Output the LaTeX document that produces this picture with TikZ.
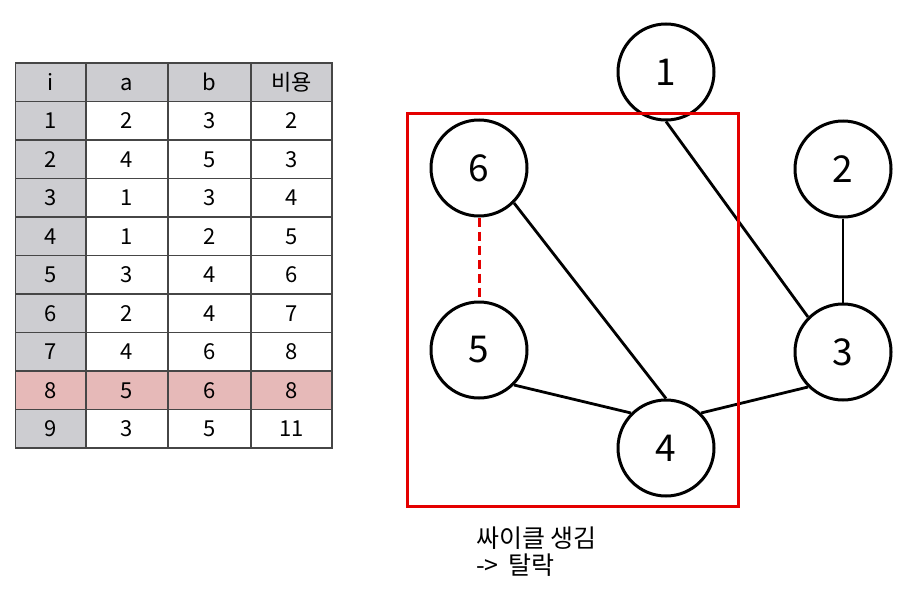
\documentclass[tikz,border=0pt]{standalone}
\usepackage{fontspec}
\setmainfont{Noto Sans CJK KR}
\definecolor{tgray}{RGB}{205,205,209}
\definecolor{tpink}{RGB}{230,185,184}
\definecolor{tline}{RGB}{70,70,70}
\definecolor{rred}{RGB}{228,0,0}
\begin{document}
\begin{tikzpicture}[x=1pt,y=-1pt,
  cell/.style={draw=tline,line width=1.3pt,minimum height=38.5pt,inner sep=0pt,text height=16pt,text depth=0pt,font=\fontsize{22}{26}\selectfont},
  c0/.style={cell,minimum width=70.3pt},
  c1/.style={cell,minimum width=82pt},
  c2/.style={cell,minimum width=83pt},
  c3/.style={cell,minimum width=81pt},
  vtx/.style={circle,draw,line width=3pt,fill=white,minimum size=96pt,inner sep=0pt,font=\fontsize{37}{40}\selectfont},
  edge/.style={line width=2.8pt}]
\useasboundingbox (0,0) rectangle (907,589);
% table header
\node[c0,fill=tgray] (h0) at (50.85,82.25) {i};
\node[c1,fill=tgray] (h1) at (127,82.25) {a};
\node[c2,fill=tgray] (h2) at (209.5,82.25) {b};
\node[c3,fill=tgray] (h3) at (291.5,82.25) {비용};
\foreach \r/\a/\b/\w in {1/2/3/2,2/4/5/3,3/1/3/4,4/1/2/5,5/3/4/6,6/2/4/7,7/4/6/8,9/3/5/11}{
  \pgfmathsetmacro{\yc}{82.25+38.5*\r}
  \node[c0,fill=tgray] (r\r c0) at (50.85,\yc) {\r};
  \node[c1,fill=white] (r\r c1) at (127,\yc) {\a};
  \node[c2,fill=white] (r\r c2) at (209.5,\yc) {\b};
  \node[c3,fill=white] (r\r c3) at (291.5,\yc) {\w};
}
\node[c0,fill=tpink] (r8c0) at (50.85,390.25) {8};
\node[c1,fill=tpink] (r8c1) at (127,390.25) {5};
\node[c2,fill=tpink] (r8c2) at (209.5,390.25) {6};
\node[c3,fill=tpink] (r8c3) at (291.5,390.25) {8};
% graph
\node[vtx] (n1) at (666,72) {1};
\node[vtx] (n2) at (843,169) {2};
\node[vtx] (n3) at (843,352) {3};
\node[vtx] (n4) at (666,448) {4};
\node[vtx] (n5) at (479,350) {5};
\node[vtx] (n6) at (479,168) {6};
\draw[edge] (n1.south) -- (n3.north west);
\draw[edge] (n2.south) -- (n3.north);
\draw[edge] (n3.south west) -- (n4.north east);
\draw[edge] (n5.south east) -- (n4.north west);
\draw[edge] (n6.south east) -- (n4.north);
\draw[rred,line width=3pt,dash pattern=on 9pt off 5pt] (n6.south) -- (n5.north);
\node[draw=rred,line width=3pt,minimum width=331pt,minimum height=393pt,inner sep=0pt] (box) at (572.5,309.5) {};
\node[anchor=north west,align=left,inner sep=0pt,font=\fontsize{25}{27}\selectfont] (note) at (476,527) {싸이클 생김\\->\hspace{10pt}탈락};
\end{tikzpicture}
\end{document}
